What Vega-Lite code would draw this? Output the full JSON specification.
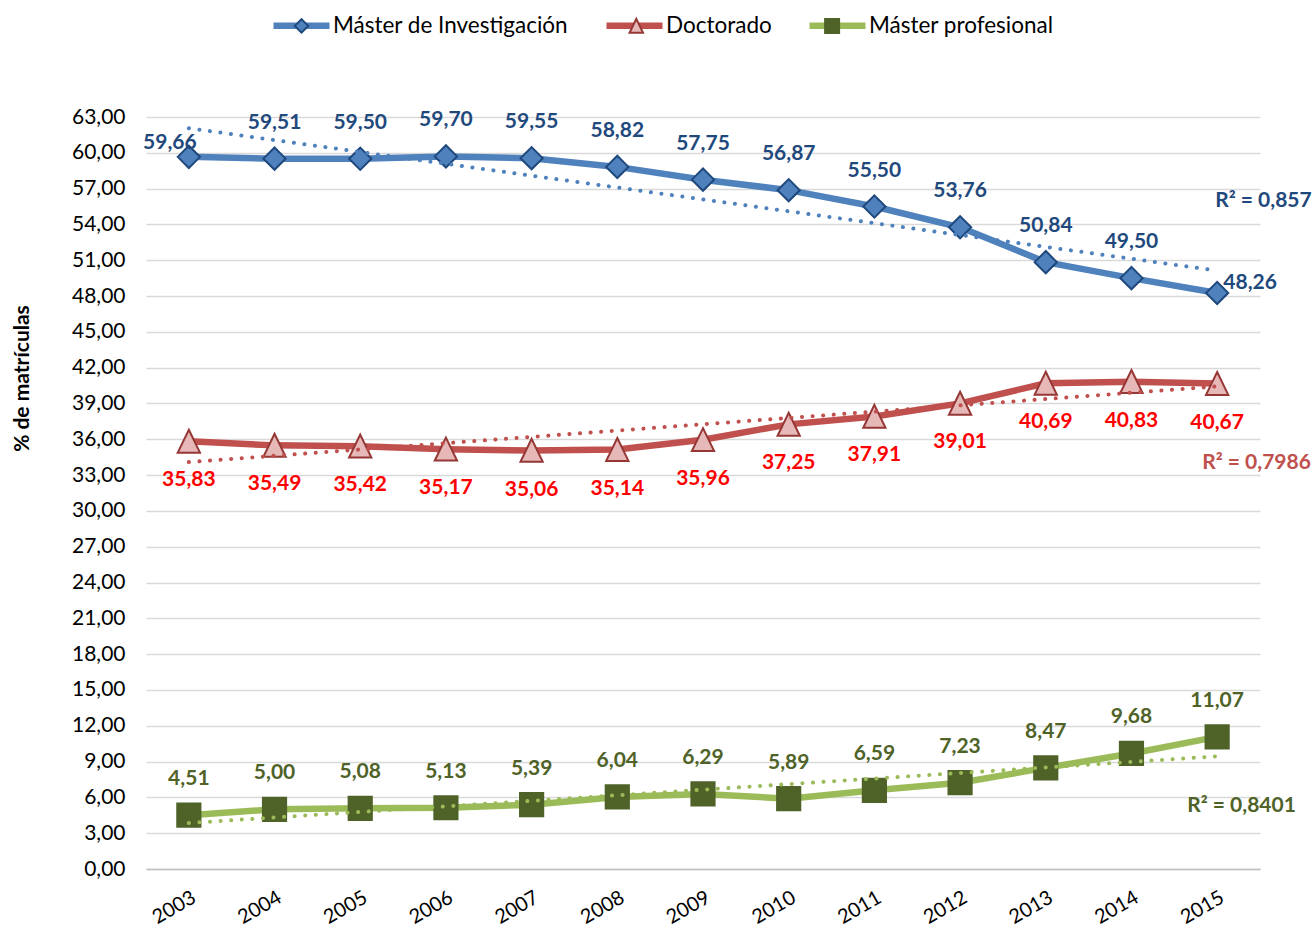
{
  "$schema": "https://vega.github.io/schema/vega-lite/v6.json",
  "width": 1114,
  "height": 752,
  "autosize": {"type": "none"},
  "padding": {"left": 146, "top": 117, "right": 56, "bottom": 60},
  "background": "white",
  "config": {
    "locale": {"number": {"decimal": ",", "thousands": ".", "grouping": [3], "currency": ["", " €"]}},
    "view": {"stroke": null},
    "font": "Lato"
  },
  "datasets": {
    "main": [
      {"year": "2003", "series": "Máster de Investigación", "value": 59.66},
      {"year": "2004", "series": "Máster de Investigación", "value": 59.51},
      {"year": "2005", "series": "Máster de Investigación", "value": 59.50},
      {"year": "2006", "series": "Máster de Investigación", "value": 59.70},
      {"year": "2007", "series": "Máster de Investigación", "value": 59.55},
      {"year": "2008", "series": "Máster de Investigación", "value": 58.82},
      {"year": "2009", "series": "Máster de Investigación", "value": 57.75},
      {"year": "2010", "series": "Máster de Investigación", "value": 56.87},
      {"year": "2011", "series": "Máster de Investigación", "value": 55.50},
      {"year": "2012", "series": "Máster de Investigación", "value": 53.76},
      {"year": "2013", "series": "Máster de Investigación", "value": 50.84},
      {"year": "2014", "series": "Máster de Investigación", "value": 49.50},
      {"year": "2015", "series": "Máster de Investigación", "value": 48.26},
      {"year": "2003", "series": "Doctorado", "value": 35.83},
      {"year": "2004", "series": "Doctorado", "value": 35.49},
      {"year": "2005", "series": "Doctorado", "value": 35.42},
      {"year": "2006", "series": "Doctorado", "value": 35.17},
      {"year": "2007", "series": "Doctorado", "value": 35.06},
      {"year": "2008", "series": "Doctorado", "value": 35.14},
      {"year": "2009", "series": "Doctorado", "value": 35.96},
      {"year": "2010", "series": "Doctorado", "value": 37.25},
      {"year": "2011", "series": "Doctorado", "value": 37.91},
      {"year": "2012", "series": "Doctorado", "value": 39.01},
      {"year": "2013", "series": "Doctorado", "value": 40.69},
      {"year": "2014", "series": "Doctorado", "value": 40.83},
      {"year": "2015", "series": "Doctorado", "value": 40.67},
      {"year": "2003", "series": "Máster profesional", "value": 4.51},
      {"year": "2004", "series": "Máster profesional", "value": 5.00},
      {"year": "2005", "series": "Máster profesional", "value": 5.08},
      {"year": "2006", "series": "Máster profesional", "value": 5.13},
      {"year": "2007", "series": "Máster profesional", "value": 5.39},
      {"year": "2008", "series": "Máster profesional", "value": 6.04},
      {"year": "2009", "series": "Máster profesional", "value": 6.29},
      {"year": "2010", "series": "Máster profesional", "value": 5.89},
      {"year": "2011", "series": "Máster profesional", "value": 6.59},
      {"year": "2012", "series": "Máster profesional", "value": 7.23},
      {"year": "2013", "series": "Máster profesional", "value": 8.47},
      {"year": "2014", "series": "Máster profesional", "value": 9.68},
      {"year": "2015", "series": "Máster profesional", "value": 11.07}
    ],
    "trend": [
      {"year": "2003", "series": "Máster de Investigación", "value": 62.06},
      {"year": "2015", "series": "Máster de Investigación", "value": 50.13},
      {"year": "2003", "series": "Doctorado", "value": 34.09},
      {"year": "2015", "series": "Doctorado", "value": 40.43},
      {"year": "2003", "series": "Máster profesional", "value": 3.85},
      {"year": "2015", "series": "Máster profesional", "value": 9.44}
    ],
    "r2": [
      {"year": "2015", "series": "Máster de Investigación", "value": 55.96, "label": "R² = 0,857"},
      {"year": "2015", "series": "Doctorado", "value": 34.01, "label": "R² = 0,7986"},
      {"year": "2015", "series": "Máster profesional", "value": 5.28, "label": "R² = 0,8401"}
    ]
  },
  "encoding": {
    "x": {
      "field": "year", "type": "ordinal",
      "scale": {"type": "point", "padding": 0.5},
      "axis": {
        "title": null, "labelAngle": -30, "labelAlign": "right", "labelBaseline": "top",
        "labelFontSize": 20, "labelColor": "#000000", "labelPadding": 18,
        "ticks": false, "grid": false, "domain": true, "domainColor": "#BFBFBF", "domainWidth": 1.3
      }
    },
    "y": {
      "field": "value", "type": "quantitative",
      "scale": {"domain": [0, 63], "nice": false},
      "axis": {
        "title": "% de matrículas", "titleFontSize": 21, "titleFontWeight": "bold", "titleColor": "#000000",
        "titleX": -124, "titleY": 261, "titleAngle": -90, "titleAlign": "center", "titleBaseline": "middle",
        "values": [0, 3, 6, 9, 12, 15, 18, 21, 24, 27, 30, 33, 36, 39, 42, 45, 48, 51, 54, 57, 60, 63],
        "format": ".2f", "labelFontSize": 21, "labelColor": "#000000", "labelPadding": 21,
        "ticks": false, "domain": false, "gridColor": "#D9D9D9", "gridWidth": 1.3
      }
    }
  },
  "layer": [
    {
      "data": {"name": "main"},
      "mark": {"type": "line", "strokeWidth": 6.5},
      "encoding": {
        "color": {
          "field": "series", "type": "nominal",
          "sort": ["Máster de Investigación", "Doctorado", "Máster profesional"],
          "scale": {"range": ["#4F81BD", "#C0504D", "#9BBB59"]},
          "legend": {"orient": "none", "legendX": 124, "legendY": -123, "direction": "horizontal", "title": null,
            "symbolType": "stroke", "symbolSize": 3136, "symbolStrokeWidth": 6.5,
            "labelFont": "Lato", "labelFontSize": 22.5, "labelColor": "#000000", "labelOffset": 0,
            "columnPadding": 24, "padding": 0, "labelLimit": 400}
        }
      }
    },
    {
      "data": {"name": "main"},
      "mark": {"type": "point", "filled": true, "size": 8600, "strokeWidth": 2, "opacity": 1},
      "encoding": {
        "shape": {
          "field": "series", "type": "nominal",
          "scale": {"domain": ["Máster de Investigación", "Doctorado", "Máster profesional"], "range": ["M-1,0M1,0M-0.24,0L0,-0.24L0.24,0L0,0.24Z", "M-1,0M1,0M0,-0.25L0.24,0.245L-0.24,0.245Z", "M-1,0M1,0M-0.25,-0.25H0.25V0.25H-0.25Z"]},
          "legend": {"orient": "none", "legendX": 126.5, "legendY": -120.5, "direction": "horizontal", "title": null,
            "symbolSize": 3136, "symbolStrokeWidth": 2, "symbolOpacity": 1,
            "labelFont": "Lato", "labelFontSize": 24.2, "labelOpacity": 0, "labelOffset": 0,
            "columnPadding": 20.8, "padding": 0, "labelLimit": 400}
        },
        "fill": {
          "field": "series", "type": "nominal",
          "scale": {"domain": ["Máster de Investigación", "Doctorado", "Máster profesional"], "range": ["#4F81BD", "#E6B9B8", "#4F6228"]},
          "legend": {"orient": "none", "legendX": 126.5, "legendY": -120.5, "direction": "horizontal", "title": null,
            "symbolSize": 3136, "symbolStrokeWidth": 2, "symbolOpacity": 1,
            "labelFont": "Lato", "labelFontSize": 24.2, "labelOpacity": 0, "labelOffset": 0,
            "columnPadding": 20.8, "padding": 0, "labelLimit": 400}
        },
        "stroke": {
          "field": "series", "type": "nominal",
          "scale": {"domain": ["Máster de Investigación", "Doctorado", "Máster profesional"], "range": ["#1F497D", "#953735", "#4F6228"]},
          "legend": {"orient": "none", "legendX": 126.5, "legendY": -120.5, "direction": "horizontal", "title": null,
            "symbolSize": 3136, "symbolStrokeWidth": 2, "symbolOpacity": 1,
            "labelFont": "Lato", "labelFontSize": 24.2, "labelOpacity": 0, "labelOffset": 0,
            "columnPadding": 20.8, "padding": 0, "labelLimit": 400}
        }
      }
    },
    {
      "data": {"name": "trend"},
      "mark": {"type": "line", "strokeWidth": 4, "strokeDash": [0.1, 10.5], "strokeCap": "round"},
      "encoding": {
        "color": {"field": "series", "type": "nominal", "sort": ["Máster de Investigación", "Doctorado", "Máster profesional"], "legend": null}
      }
    },
    {
      "data": {"name": "main"},
      "transform": [{"filter": {"and": [{"field": "series", "equal": "Máster de Investigación"}, {"not": {"field": "year", "oneOf": ["2003", "2015"]}}]}}],
      "mark": {"type": "text", "font": "Lato", "fontSize": 21, "fontWeight": "bold", "color": "#1F497D", "dy": -36, "baseline": "middle"},
      "encoding": {"text": {"field": "value", "type": "quantitative", "format": ".2f"}}
    },
    {
      "data": {"name": "main"},
      "transform": [{"filter": {"and": [{"field": "series", "equal": "Máster de Investigación"}, {"field": "year", "equal": "2003"}]}}],
      "mark": {"type": "text", "font": "Lato", "fontSize": 21, "fontWeight": "bold", "color": "#1F497D", "dx": -19, "dy": -14, "baseline": "middle"},
      "encoding": {"text": {"field": "value", "type": "quantitative", "format": ".2f"}}
    },
    {
      "data": {"name": "main"},
      "transform": [{"filter": {"and": [{"field": "series", "equal": "Máster de Investigación"}, {"field": "year", "equal": "2015"}]}}],
      "mark": {"type": "text", "font": "Lato", "fontSize": 21, "fontWeight": "bold", "color": "#1F497D", "dx": 33, "dy": -10, "baseline": "middle"},
      "encoding": {"text": {"field": "value", "type": "quantitative", "format": ".2f"}}
    },
    {
      "data": {"name": "main"},
      "transform": [{"filter": {"field": "series", "equal": "Doctorado"}}],
      "mark": {"type": "text", "font": "Lato", "fontSize": 21, "fontWeight": "bold", "color": "#FF0000", "dy": 39, "baseline": "middle"},
      "encoding": {"text": {"field": "value", "type": "quantitative", "format": ".2f"}}
    },
    {
      "data": {"name": "main"},
      "transform": [{"filter": {"field": "series", "equal": "Máster profesional"}}],
      "mark": {"type": "text", "font": "Lato", "fontSize": 21, "fontWeight": "bold", "color": "#4F6228", "dy": -36, "baseline": "middle"},
      "encoding": {"text": {"field": "value", "type": "quantitative", "format": ".2f"}}
    },
    {
      "data": {"name": "r2"},
      "transform": [{"filter": {"field": "series", "equal": "Máster de Investigación"}}],
      "mark": {"type": "text", "font": "Lato", "fontSize": 21, "fontWeight": "bold", "color": "#1F497D", "align": "left", "dx": -2, "baseline": "middle"},
      "encoding": {"text": {"field": "label", "type": "nominal"}}
    },
    {
      "data": {"name": "r2"},
      "transform": [{"filter": {"field": "series", "equal": "Doctorado"}}],
      "mark": {"type": "text", "font": "Lato", "fontSize": 21, "fontWeight": "bold", "color": "#C0504D", "align": "left", "dx": -15, "baseline": "middle"},
      "encoding": {"text": {"field": "label", "type": "nominal"}}
    },
    {
      "data": {"name": "r2"},
      "transform": [{"filter": {"field": "series", "equal": "Máster profesional"}}],
      "mark": {"type": "text", "font": "Lato", "fontSize": 21, "fontWeight": "bold", "color": "#4F6228", "align": "left", "dx": -30, "baseline": "middle"},
      "encoding": {"text": {"field": "label", "type": "nominal"}}
    }
  ]
}
